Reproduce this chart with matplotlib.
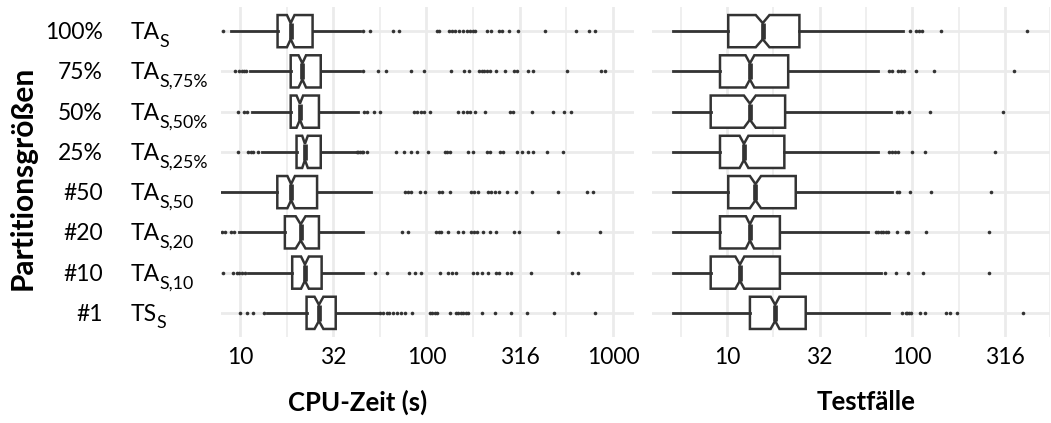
import matplotlib
matplotlib.use("Agg")
import matplotlib.pyplot as plt
from matplotlib.transforms import blended_transform_factory

plt.rcParams['font.family'] = ['Lato', 'DejaVu Sans']

# ---- categories (top to bottom) ----
size_labels = ["100%", "75%", "50%", "25%", "#50", "#20", "#10", "#1"]
variant_names = ["TA", "TA", "TA", "TA", "TA", "TA", "TA", "TS"]
variant_subscripts = ["S", "S,75%", "S,50%", "S,25%", "S,50", "S,20", "S,10", "S"]

# ---- CPU time (s) ----
cpu_whislo = [8.95, 11.3, 11.55, 13.1, 7.9, 9.9, 11.0, 13.9]
cpu_q1 = [15.9, 18.7, 18.7, 20.1, 15.85, 17.4, 19.05, 22.75]
cpu_cilo = [17.85, 20.6, 20.1, 21.55, 17.95, 19.9, 21.25, 25.1]
cpu_med = [18.7, 21.6, 20.96, 22.3, 18.8, 21.15, 22.3, 26.5]
cpu_cihi = [19.6, 22.6, 21.8, 23.1, 19.7, 22.45, 23.4, 28.0]
cpu_q3 = [24.5, 27.1, 26.5, 27.1, 25.9, 26.5, 27.4, 32.6]
cpu_whishi = [44.0, 44.0, 42.8, 41.6, 50.4, 45.9, 45.5, 54.9]
cpu_fliers = [
    [8.14, 45.7, 49.8, 66.1, 71.2, 113.8, 116.7, 132, 137, 142, 149, 157, 165, 171,
     178, 182, 211, 222, 245, 254, 277, 309, 432, 633, 743, 801],
    [9.4, 9.9, 10.2, 10.5, 10.8, 45.9, 55.1, 60.9, 82.5, 96.7, 135.5, 159.5, 168.6,
     190.6, 198.5, 204, 210, 219, 237, 263, 295, 305, 351, 373, 570, 866, 911],
    [9.8, 10.5, 10.9, 46.3, 48.2, 52.6, 56.3, 85.5, 89.1, 92.9, 96.8, 104.2, 148,
     157.5, 164, 172, 182, 206, 281, 290, 366, 479, 548, 594],
    [9.8, 11.0, 11.5, 11.8, 12.5, 42.3, 43.1, 44.0, 44.9, 45.8, 47.8, 68.4, 76.0,
     82.1, 89.0, 101.7, 125.3, 129, 134, 167, 178, 210, 219, 248, 256, 305, 325,
     352, 373, 440, 540],
    [76.6, 79.9, 82.2, 92.3, 98.2, 117, 121.7, 134, 174, 179.5, 188, 214, 223, 233,
     245, 269, 302, 370, 505, 729, 780],
    [7.98, 8.31, 8.95, 9.32, 74.2, 79.9, 112, 116, 119, 131, 147, 156, 174, 180,
     186, 202, 219, 235, 293, 314, 505, 855],
    [8.14, 9.2, 9.6, 9.9, 10.3, 10.6, 53.0, 61.3, 81.0, 86.6, 93.0, 118, 131, 136.5,
     144, 178, 187, 198, 214, 237, 244, 269, 284, 363, 600, 650],
    [10.0, 10.85, 11.8, 13.45, 56.3, 58.6, 61.2, 63.2, 65.9, 69.2, 72.6, 76.6, 83.2,
     104, 107.5, 111, 114, 134, 144, 148, 153, 157.5, 162, 167, 199, 233, 283, 345,
     484, 801],
]

# ---- number of test cases ----
test_whislo = [5.1, 5.1, 5.1, 5.1, 5.1, 5.1, 5.1, 5.1]
test_q1 = [10.16, 9.17, 8.17, 9.17, 10.16, 9.17, 8.17, 13.3]
test_cilo = [14.3, 12.6, 12.35, 11.7, 13.3, 12.65, 11.1, 17.2]
test_med = [15.6, 13.3, 13.3, 12.35, 14.25, 13.3, 11.75, 18.2]
test_cihi = [16.95, 14.05, 14.3, 13.05, 15.27, 14.0, 12.4, 19.2]
test_q3 = [24.6, 21.4, 20.6, 20.4, 23.5, 19.3, 19.3, 26.6]
test_whishi = [88.8, 65.5, 76.4, 65.5, 77.4, 57.4, 67.5, 75.1]
test_fliers = [
    [97.2, 104.7, 108.7, 112.4, 142.8, 414],
    [75.1, 77.3, 84.0, 86.5, 90.2, 104.7, 131, 355],
    [83.0, 85.1, 87.5, 96.3, 124.6, 307],
    [75.1, 78.0, 80.6, 84.0, 99.3, 117, 279],
    [82.4, 85.0, 97.2, 126.2, 265],
    [63.5, 65.5, 67.5, 69.7, 71.9, 74.2, 82.4, 92.1, 95.1, 118.6, 259],
    [71.3, 81.4, 95.1, 113.8, 259],
    [87.5, 92.1, 94.2, 96.3, 98.8, 110, 117, 152, 159.8, 173.6, 397],
]

cpu_ticks = [10, 31.6, 100, 316, 1000]
cpu_ticklabels = ["10", "32", "100", "316", "1000"]
test_ticks = [10, 31.6, 100, 316]
test_ticklabels = ["10", "32", "100", "316"]

INK = "#333333"
GRID = "#EBEBEB"
W, H = 1051, 423
LABEL_SIZE = 16.5
SUB_SIZE = 12.8

fig = plt.figure(figsize=(W / 100, H / 100), dpi=100)
ax_cpu = fig.add_axes([220.7 / W, 1 - 337 / H, 413.3 / W, 330 / H])
ax_test = fig.add_axes([652 / W, 1 - 337 / H, 398 / W, 330 / H])


def make_stats(whislo, q1, cilo, med, cihi, q3, whishi, fliers):
    return [dict(whislo=a, q1=b, cilo=c, med=d, cihi=e, q3=f, whishi=g, fliers=h)
            for a, b, c, d, e, f, g, h in zip(whislo, q1, cilo, med, cihi, q3, whishi, fliers)]


positions = list(range(1, len(size_labels) + 1))


def draw_panel(ax, stats, xlim, ticks, ticklabels, minors):
    ax.set_xscale("log")
    ax.set_xlim(*xlim)
    ax.set_ylim(len(positions) + 0.6, 0.4)
    for p in positions:
        ax.axhline(p, color=GRID, lw=2.0, zorder=0)
    for t in ticks:
        ax.axvline(t, color=GRID, lw=2.0, zorder=0)
    for m in minors:
        ax.axvline(m, color=GRID, lw=1.1, zorder=0)
    ax.bxp(stats, positions=positions, widths=0.8, orientation="horizontal",
           shownotches=True, showcaps=False, patch_artist=True, manage_ticks=False,
           boxprops=dict(facecolor="white", edgecolor=INK, linewidth=1.8),
           whiskerprops=dict(color=INK, linewidth=2.0),
           medianprops=dict(color=INK, linewidth=3.4, solid_capstyle="butt"),
           flierprops=dict(marker="o", markersize=2.6, markerfacecolor=INK,
                           markeredgecolor=INK, markeredgewidth=0, linestyle="none"))
    ax.set_xticks(ticks)
    ax.set_xticklabels(ticklabels)
    ax.xaxis.set_minor_locator(matplotlib.ticker.NullLocator())
    ax.tick_params(axis="x", length=0, pad=7, labelsize=LABEL_SIZE, labelcolor="black")
    ax.set_yticks([])
    for s in ax.spines.values():
        s.set_visible(False)
    ax.set_facecolor("white")


draw_panel(ax_cpu,
           make_stats(cpu_whislo, cpu_q1, cpu_cilo, cpu_med, cpu_cihi, cpu_q3, cpu_whishi, cpu_fliers),
           (7.88, 1296), cpu_ticks, cpu_ticklabels,
           [10 ** 1.25, 10 ** 1.75, 10 ** 2.25, 10 ** 2.75])
draw_panel(ax_test,
           make_stats(test_whislo, test_q1, test_cilo, test_med, test_cihi, test_q3, test_whishi, test_fliers),
           (3.94, 553.5), test_ticks, test_ticklabels,
           [10 ** 0.75, 10 ** 1.25, 10 ** 1.75, 10 ** 2.25, 10 ** 2.741])

# row labels: partition size and variant name with subscript
renderer = fig.canvas.get_renderer()
trans = blended_transform_factory(fig.transFigure, ax_cpu.transData)
for p, s, name, sub in zip(positions, size_labels, variant_names, variant_subscripts):
    ax_cpu.text(102.7 / W, p + 0.2, s, transform=trans, ha="right", va="baseline",
                fontsize=LABEL_SIZE, color="black")
    main = ax_cpu.text(130.7 / W, p + 0.2, name, transform=trans, ha="left",
                       va="baseline", fontsize=LABEL_SIZE, color="black")
    x_end = main.get_window_extent(renderer).x1
    base_y = ax_cpu.transData.transform((1, p + 0.2))[1]
    fig.text((x_end - 0.8) / W, (base_y - 7.5) / H, sub, ha="left", va="baseline",
             fontsize=SUB_SIZE, color="black")

fig.text(358 / W, 1 - 402 / H, "CPU-Zeit (s)", ha="center", va="center",
         fontsize=18.5, fontweight="bold")
fig.text(866 / W, 1 - 402 / H, "Testfälle", ha="center", va="center",
         fontsize=18.5, fontweight="bold")
fig.text(31.7 / W, 1 - 178 / H, "Partitionsgrößen", ha="center", va="baseline",
         rotation=90, rotation_mode="anchor", fontsize=21.5, fontweight="bold")

fig.savefig("out.png", dpi=100, facecolor="white")
